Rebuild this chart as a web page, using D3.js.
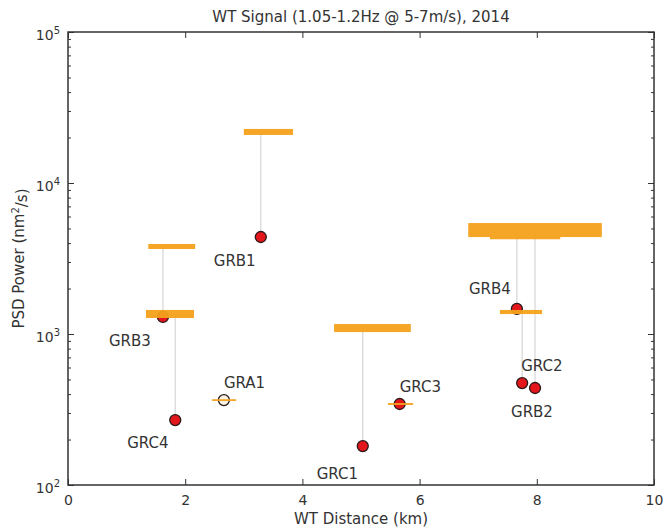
<!DOCTYPE html>
<html>
<head>
<meta charset="utf-8">
<script src="https://cdn.jsdelivr.net/npm/d3@7"></script>
<style>
  body { margin: 0; background: #fff; }
  text { font-family: "DejaVu Sans", sans-serif; fill: #333; }
</style>
</head>
<body>
<div id="chart"></div>
<script>
// sites, distance to wind turbines and measured power
const sites = ["GRB1", "GRB3", "GRC4", "GRA1", "GRC1", "GRC3", "GRB4", "GRC2", "GRB2"];
const distKm = [3.29, 1.62, 1.83, 2.66, 5.03, 5.66, 7.66, 7.75, 7.97];
const power = [4390, 1297, 269, 365, 181, 344, 1466, 473, 439];
const openMarker = [false, false, false, true, false, false, false, false, false];

// orange bars: distance range and power range
const barFrom = [3.00, 1.37, 1.33, 2.46, 4.54, 5.46, 7.20, 7.37, 6.83];
const barTo = [3.84, 2.17, 2.15, 2.87, 5.85, 5.89, 8.40, 8.09, 9.11];
const barLow = [20800, 3655, 1276, 360, 1030, 339, 4240, 1355, 4385];
const barHigh = [22800, 3945, 1443, 370, 1164, 349, 5270, 1443, 5430];

// axis ticks
const xTicks = [0, 2, 4, 6, 8, 10];
const yDecades = [100, 1000, 10000, 100000];

// label offsets from the marker (px)
const labelOffset = [[-47, 24], [-54, 24], [-48, 23], [0, -17], [-46, 28], [0, -17], [-48, -20], [-1, -17], [-24, 24]];

const width = 664;
const height = 531;
const margin = {top: 32, right: 10, bottom: 46, left: 68};

const svg = d3.select("#chart")
  .append("svg")
  .attr("width", width)
  .attr("height", height);

const x = d3.scaleLinear()
  .domain([0, 10])
  .range([margin.left, width - margin.right]);

const y = d3.scaleLog()
  .domain([100, 100000])
  .range([height - margin.bottom, margin.top]);

const data = sites.map((s, i) => ({
  site: s, dist: distKm[i], power: power[i], open: openMarker[i],
  x0: barFrom[i], x1: barTo[i], lo: barLow[i], hi: barHigh[i],
  off: labelOffset[i]
}));

// grey connector from point up to its bar
svg.append("g")
  .selectAll("line")
  .data(data)
  .join("line")
  .attr("x1", d => x(d.dist))
  .attr("x2", d => x(d.dist))
  .attr("y1", d => y(d.power))
  .attr("y2", d => y(Math.sqrt(d.lo * d.hi)))
  .attr("stroke", "#d6d6d6")
  .attr("stroke-width", 1.2);

// markers
svg.append("g")
  .selectAll("circle")
  .data(data)
  .join("circle")
  .attr("cx", d => x(d.dist))
  .attr("cy", d => y(d.power))
  .attr("r", 5.5)
  .attr("fill", d => d.open ? "#f7f2e6" : "#e3161c")
  .attr("stroke", "#2a1a1a")
  .attr("stroke-width", 1.3);

// orange bars
svg.append("g")
  .attr("fill", "#f5a21c")
  .attr("opacity", 0.95)
  .selectAll("rect")
  .data(data)
  .join("rect")
  .attr("x", d => x(d.x0))
  .attr("width", d => x(d.x1) - x(d.x0))
  .attr("y", d => y(d.hi))
  .attr("height", d => y(d.lo) - y(d.hi));

// site labels
svg.append("g")
  .selectAll("text")
  .data(data)
  .join("text")
  .attr("x", d => x(d.dist) + d.off[0])
  .attr("y", d => y(d.power) + d.off[1])
  .attr("dominant-baseline", "central")
  .attr("font-size", 15)
  .text(d => d.site);

// minor log ticks
const minor = [];
yDecades.slice(0, -1).forEach(d => { for (let k = 2; k < 10; k++) minor.push(d * k); });

const axisColor = "#333";

function styleAxis(g) {
  g.select(".domain").remove();
  g.selectAll(".tick line").attr("stroke", axisColor).attr("stroke-width", 1);
}

// x axis bottom and top
svg.append("g")
  .attr("transform", `translate(0,${height - margin.bottom})`)
  .call(d3.axisBottom(x).tickValues(xTicks).tickSizeInner(-6).tickPadding(10).tickFormat(d3.format("d")))
  .call(styleAxis)
  .call(g => g.selectAll("text").attr("font-size", 14).attr("fill", "#333"));

svg.append("g")
  .attr("transform", `translate(0,${margin.top})`)
  .call(d3.axisTop(x).tickValues(xTicks).tickSizeInner(-6).tickFormat(""))
  .call(styleAxis);

// y axis left, with superscript labels
svg.append("g")
  .attr("transform", `translate(${margin.left},0)`)
  .call(d3.axisLeft(y).tickValues(yDecades).tickSizeInner(-6).tickPadding(8).tickFormat(""))
  .call(styleAxis)
  .call(g => {
    g.selectAll(".tick text")
      .attr("font-size", 14)
      .attr("fill", "#333")
      .attr("dy", "0.55em")
      .each(function(d) {
        const t = d3.select(this);
        t.append("tspan").text("10");
        t.append("tspan").attr("dy", "-0.6em").attr("font-size", 10).text(Math.round(Math.log10(d)));
      });
  });

svg.append("g")
  .attr("transform", `translate(${margin.left},0)`)
  .call(d3.axisLeft(y).tickValues(minor).tickSizeInner(-3).tickFormat(""))
  .call(styleAxis);

// y axis right
svg.append("g")
  .attr("transform", `translate(${width - margin.right},0)`)
  .call(d3.axisRight(y).tickValues(yDecades).tickSizeInner(-6).tickFormat(""))
  .call(styleAxis);

svg.append("g")
  .attr("transform", `translate(${width - margin.right},0)`)
  .call(d3.axisRight(y).tickValues(minor).tickSizeInner(-3).tickFormat(""))
  .call(styleAxis);

// frame
svg.append("rect")
  .attr("x", margin.left)
  .attr("y", margin.top)
  .attr("width", width - margin.left - margin.right)
  .attr("height", height - margin.top - margin.bottom)
  .attr("fill", "none")
  .attr("stroke", axisColor)
  .attr("stroke-width", 1.5);

// titles
svg.append("text")
  .attr("x", (margin.left + width - margin.right) / 2)
  .attr("y", 22)
  .attr("text-anchor", "middle")
  .attr("font-size", 15)
  .text("WT Signal (1.05-1.2Hz @ 5-7m/s), 2014");

svg.append("text")
  .attr("x", (margin.left + width - margin.right) / 2)
  .attr("y", 524)
  .attr("text-anchor", "middle")
  .attr("font-size", 15)
  .text("WT Distance (km)");

svg.append("text")
  .attr("transform", `translate(24,${(margin.top + height - margin.bottom) / 2}) rotate(-90)`)
  .attr("text-anchor", "middle")
  .attr("font-size", 15)
  .call(t => {
    t.append("tspan").text("PSD Power (nm");
    t.append("tspan").attr("dy", "-0.5em").attr("font-size", 10).text("2");
    t.append("tspan").attr("dy", "0.5em").text("/s)");
  });
</script>
</body>
</html>
